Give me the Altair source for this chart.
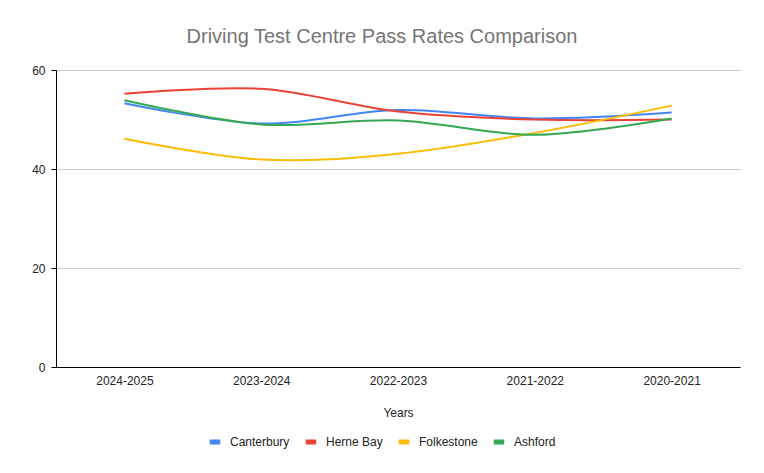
import altair as alt
import pandas as pd

years = ["2024-2025", "2023-2024", "2022-2023", "2021-2022", "2020-2021"]
centres = ["Canterbury", "Herne Bay", "Folkestone", "Ashford"]
canterbury = [53.3, 49.2, 51.9, 50.2, 51.4]
herne_bay = [55.2, 56.2, 51.6, 50.0, 50.0]
folkestone = [46.1, 41.9, 43.1, 47.3, 52.8]
ashford = [53.9, 49.0, 49.8, 46.9, 50.2]
colors = ["#4285F4", "#EA4335", "#FBBC04", "#34A853"]

rows = []
for name, vals in zip(centres, [canterbury, herne_bay, folkestone, ashford]):
    for i, (y, v) in enumerate(zip(years, vals)):
        rows.append({"Year": y, "Centre": name, "Rate": v, "order": i})
df = pd.DataFrame(rows)

font = "Liberation Sans"

chart = alt.Chart(df).mark_line(interpolate="cardinal", strokeWidth=2).encode(
    x=alt.X("Year:N", sort=years, title="Years",
            scale=alt.Scale(paddingOuter=0.5, paddingInner=0),
            axis=alt.Axis(labelAngle=0, ticks=False, domainColor="#000000",
                          labelColor="#222222", labelFontSize=12, labelPadding=8,
                          titleFontSize=12, titleFontWeight="normal", titleColor="#222222",
                          titlePadding=21, grid=False, labelFont=font, titleFont=font)),
    y=alt.Y("Rate:Q", title=None,
            scale=alt.Scale(domain=[0, 60], nice=False),
            axis=alt.Axis(values=[0, 20, 40, 60], domainColor="#000000", tickColor="#000000",
                          tickSize=5, labelColor="#222222", labelFontSize=12, labelPadding=6,
                          gridColor="#cccccc", labelFont=font)),
    color=alt.Color("Centre:N", sort=centres,
                    scale=alt.Scale(domain=centres, range=colors),
                    legend=alt.Legend(title=None, orient="none", legendX=151, legendY=364,
                                      direction="horizontal", columns=4, columnPadding=5,
                                      gridAlign="none",
                                      symbolType="stroke", symbolStrokeWidth=5, symbolSize=110,
                                      labelFontSize=12, labelColor="#222222", labelFont=font,
                                      labelOffset=7)),
    order="order:Q",
).properties(
    width=684, height=297,
    title=alt.TitleParams("Driving Test Centre Pass Rates Comparison", fontSize=20,
                          font=font, fontWeight="normal", color="#757575",
                          anchor="middle", dx=-16, offset=17),
    autosize=alt.AutoSizeParams(type="none"),
    padding={"left": 48, "top": 62, "right": 16, "bottom": 90},
).configure_view(stroke=None)

chart.save("out.html", embed_options={"renderer": "svg", "actions": False})
